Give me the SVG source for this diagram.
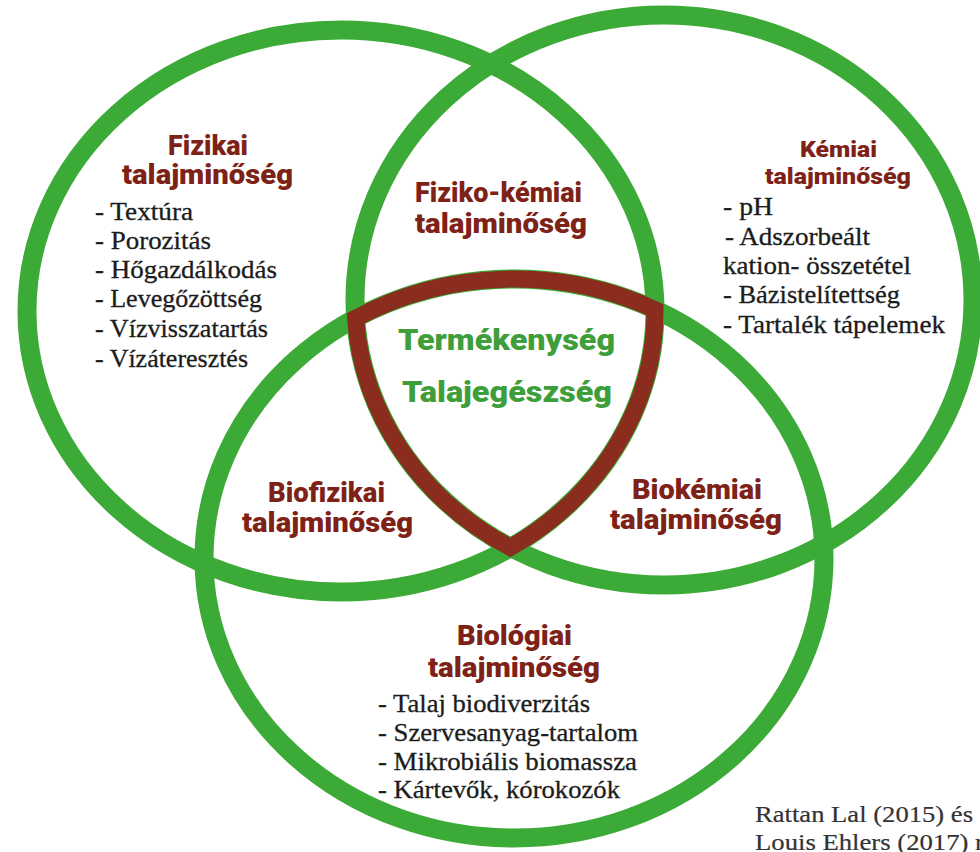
<svg xmlns="http://www.w3.org/2000/svg" width="980" height="852" viewBox="0 0 980 852">
<style>
.ring{fill:none;stroke:#3caa36;stroke-width:19}
.core{fill:none;stroke:#8a2c1e;stroke-width:17;stroke-linejoin:miter}
.h{font-family:Roboto,"Liberation Sans",Arial,sans-serif;font-weight:900;font-size:27px;fill:#7e2218;text-anchor:middle}
.hs{font-size:22px}
.c{font-family:Roboto,"Liberation Sans",Arial,sans-serif;font-weight:900;font-size:30px;fill:#3e9e3a;text-anchor:middle}
.l{font-family:"Liberation Serif","Times New Roman",serif;font-size:24.5px;fill:#1c1c1c;stroke:#1c1c1c;stroke-width:0.3}
.r{font-family:"Liberation Serif","Times New Roman",serif;font-size:24px;fill:#333;stroke:#333;stroke-width:0.2}
</style>
<rect width="980" height="852" fill="#ffffff"/>
<g id="fizikai">
<ellipse class="ring" cx="341" cy="311" rx="314" ry="281"/>
<text class="h" x="208" y="155" textLength="80" lengthAdjust="spacingAndGlyphs">Fizikai</text>
<text class="h" x="207.5" y="184" textLength="171" lengthAdjust="spacingAndGlyphs">talajminőség</text>
<text class="l" x="95" y="220" textLength="98" lengthAdjust="spacingAndGlyphs">- Textúra</text>
<text class="l" x="95" y="249" textLength="116" lengthAdjust="spacingAndGlyphs">- Porozitás</text>
<text class="l" x="95" y="278" textLength="182" lengthAdjust="spacingAndGlyphs">- Hőgazdálkodás</text>
<text class="l" x="95" y="307" textLength="167" lengthAdjust="spacingAndGlyphs">- Levegőzöttség</text>
<text class="l" x="95" y="337" textLength="173" lengthAdjust="spacingAndGlyphs">- Vízvisszatartás</text>
<text class="l" x="95" y="367" textLength="153" lengthAdjust="spacingAndGlyphs">- Vízáteresztés</text>
</g>
<g id="kemiai">
<ellipse class="ring" cx="664" cy="300" rx="309" ry="285"/>
<text class="h hs" x="838.5" y="157" textLength="77" lengthAdjust="spacingAndGlyphs">Kémiai</text>
<text class="h hs" x="838" y="184" textLength="146" lengthAdjust="spacingAndGlyphs">talajminőség</text>
<text class="l" x="723" y="215" textLength="50" lengthAdjust="spacingAndGlyphs">- pH</text>
<text class="l" x="725" y="245" textLength="145" lengthAdjust="spacingAndGlyphs">- Adszorbeált</text>
<text class="l" x="723" y="274" textLength="188" lengthAdjust="spacingAndGlyphs">kation- összetétel</text>
<text class="l" x="723" y="303" textLength="177" lengthAdjust="spacingAndGlyphs">- Bázistelítettség</text>
<text class="l" x="723" y="333" textLength="222" lengthAdjust="spacingAndGlyphs">- Tartalék tápelemek</text>
</g>
<g id="biologiai">
<ellipse class="ring" cx="514" cy="558.5" rx="310" ry="279.5"/>
<text class="h" x="514.5" y="645" textLength="115" lengthAdjust="spacingAndGlyphs">Biológiai</text>
<text class="h" x="514" y="677" textLength="172" lengthAdjust="spacingAndGlyphs">talajminőség</text>
<text class="l" x="378" y="712" textLength="212" lengthAdjust="spacingAndGlyphs">- Talaj biodiverzitás</text>
<text class="l" x="378" y="741" textLength="260" lengthAdjust="spacingAndGlyphs">- Szervesanyag-tartalom</text>
<text class="l" x="378" y="770" textLength="259" lengthAdjust="spacingAndGlyphs">- Mikrobiális biomassza</text>
<text class="l" x="378" y="798" textLength="242" lengthAdjust="spacingAndGlyphs">- Kártevők, kórokozók</text>
</g>
<g id="fiziko-kemiai">
<text class="h" x="498.5" y="202" textLength="167" lengthAdjust="spacingAndGlyphs">Fiziko-kémiai</text>
<text class="h" x="501" y="233" textLength="172" lengthAdjust="spacingAndGlyphs">talajminőség</text>
</g>
<g id="biofizikai">
<text class="h" x="326.5" y="502" textLength="117" lengthAdjust="spacingAndGlyphs">Biofizikai</text>
<text class="h" x="327.5" y="532" textLength="171" lengthAdjust="spacingAndGlyphs">talajminőség</text>
</g>
<g id="biokemiai">
<text class="h" x="697" y="499" textLength="130" lengthAdjust="spacingAndGlyphs">Biokémiai</text>
<text class="h" x="696" y="529" textLength="172" lengthAdjust="spacingAndGlyphs">talajminőség</text>
</g>
<g id="center">
<path class="core" d="M355.6 318.3 A310 279.5 0 0 1 655 309.6 A314 281 0 0 1 510.5 547.5 A309 285 0 0 1 355.6 318.3 Z"/>
<text class="c" x="506.5" y="350" textLength="217" lengthAdjust="spacingAndGlyphs">Termékenység</text>
<text class="c" x="507" y="402" textLength="210" lengthAdjust="spacingAndGlyphs">Talajegészség</text>
</g>
<g id="source">
<text class="r" x="755" y="822" textLength="218" lengthAdjust="spacingAndGlyphs">Rattan Lal (2015) és</text>
<text class="r" x="755" y="850" textLength="229" lengthAdjust="spacingAndGlyphs">Louis Ehlers (2017) r</text>
</g>
</svg>
